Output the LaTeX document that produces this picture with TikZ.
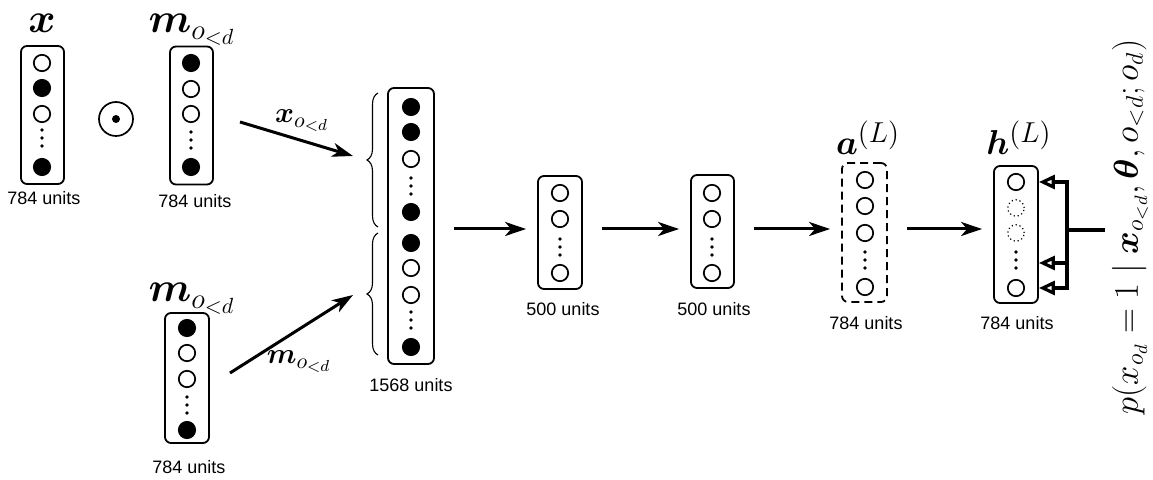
\documentclass[tikz,border=0pt]{standalone}
\usepackage{bm}
\usepackage{fontspec}
\newfontfamily\unitsfont{Liberation Sans}
\usetikzlibrary{arrows.meta,decorations.pathreplacing}

\tikzset{
  layer/.style={draw, line width=0.9pt, rounded corners=3pt, inner sep=0pt},
  wc/.style={circle, draw, line width=0.85pt, minimum size=8.2pt, inner sep=0pt, fill=white},
  bc/.style={wc, fill=black},
  dc/.style={circle, draw, line width=0.6pt, dash pattern=on 0.6pt off 1.4pt, minimum size=8.2pt, inner sep=0pt},
  units/.style={font=\unitsfont\fontsize{9}{11}\selectfont, inner sep=0pt},
  lbl/.style={font=\fontsize{19}{22}\selectfont, inner sep=0pt, anchor=base},
  biglbl/.style={lbl, font=\fontsize{22}{26}\selectfont},
  arrlbl/.style={font=\fontsize{15.5}{18}\selectfont, inner sep=0pt},
  arr/.style={-{Stealth[length=10.5pt,width=7pt,inset=3pt]}, line width=1.5pt},
  chain/.style={arr, shorten <=9.5pt, shorten >=5.5pt},
  fb/.style={-{Triangle[open,length=8pt,width=7pt]}, line width=1.6pt},
  vdots/.pic={\fill (0,-8) circle (1.9); \fill (0,0) circle (1.9); \fill (0,8) circle (1.9);}
}

\begin{document}
\begin{tikzpicture}[x=0.5pt,y=-0.5pt]
\useasboundingbox (0,0) rectangle (1153,480);

% ---- input x ----
\node[layer, minimum width=21.5pt, minimum height=69pt] (bx) at (42.5,115) {};
\node[wc] (bx1) at (42,63) {};
\node[bc] (bx2) at (42,88) {};
\node[wc] (bx3) at (42,114) {};
\pic at (42,138) {vdots};
\node[bc] (bx4) at (42,167) {};
\node[biglbl] (lx) at (42,33) {$\bm{x}$};
\node[units] (ux) at (44,198) {784 units};

% ---- elementwise product ----
\node[draw, circle, minimum size=17pt, inner sep=0pt, line width=0.85pt] (odot) at (116,119) {};
\fill (odot.center) circle (4);

% ---- mask m ----
\node[layer, minimum width=21.5pt, minimum height=69pt] (bmask) at (191.5,115.5) {};
\node[bc] (bm1) at (191,63) {};
\node[wc] (bm2) at (191,89) {};
\node[wc] (bm3) at (191,114) {};
\pic at (191,140) {vdots};
\node[bc] (bm4) at (191,167) {};
\node[biglbl] (lm) at (192,33) {$\bm{m}_{o_{<d}}$};
\node[units] (um) at (195,201) {784 units};

% ---- mask m (second copy) ----
\node[layer, minimum width=22pt, minimum height=65pt] (bq) at (187,378) {};
\node[bc] (bq1) at (187,328) {};
\node[wc] (bq2) at (187,353) {};
\node[wc] (bq3) at (187,379) {};
\pic at (187,405) {vdots};
\node[bc] (bq4) at (187,430) {};
\node[biglbl] (lq) at (192,302) {$\bm{m}_{o_{<d}}$};
\node[units] (uq) at (189,467) {784 units};

% ---- concatenated input ----
\node[layer, minimum width=23pt, minimum height=138pt] (bcat) at (411,226) {};
\node[bc] (c1) at (411,107) {};
\node[bc] (c2) at (411,132) {};
\node[wc] (c3) at (411,159) {};
\pic at (411,186) {vdots};
\node[bc] (c4) at (411,212) {};
\node[bc] (c5) at (411,243) {};
\node[wc] (c6) at (411,268) {};
\node[wc] (c7) at (411,295) {};
\pic at (411,320) {vdots};
\node[bc] (c8) at (411,347) {};
\node[units] (uc) at (411,385) {1568 units};
\draw[decorate, decoration={brace, amplitude=5.5pt}, line width=0.55pt] (378,227) -- (378,93);
\draw[decorate, decoration={brace, amplitude=5.5pt}, line width=0.55pt] (378,355) -- (378,233);

% ---- hidden layer 1 ----
\node[layer, minimum width=22pt, minimum height=56.5pt] (h1) at (560,232.5) {};
\node[wc] (h11) at (560,193) {};
\node[wc] (h12) at (560,219) {};
\pic at (560,247) {vdots};
\node[wc] (h13) at (560,273) {};
\node[units] (uh1) at (563,309) {500 units};

% ---- hidden layer 2 ----
\node[layer, minimum width=21.5pt, minimum height=56.5pt] (h2) at (712.5,231.5) {};
\node[wc] (h21) at (712,193) {};
\node[wc] (h22) at (712,219) {};
\pic at (712,247) {vdots};
\node[wc] (h23) at (712,273) {};
\node[units] (uh2) at (714,309) {500 units};

% ---- pre-activation a^(L) ----
\node[layer, dash pattern=on 4pt off 2.5pt, minimum width=22.5pt, minimum height=69.5pt] (ba) at (864.5,232.5) {};
\node[wc] (a1) at (865,180) {};
\node[wc] (a2) at (865,206) {};
\node[wc] (a3) at (865,233) {};
\pic at (865,260) {vdots};
\node[wc] (a4) at (865,287) {};
\node[lbl] (la) at (868,155) {$\bm{a}^{(L)}$};
\node[units] (ua) at (866,323) {784 units};

% ---- output h^(L) ----
\node[layer, minimum width=22pt, minimum height=68.5pt] (bh) at (1016,234.5) {};
\node[wc] (o1) at (1016,182) {};
\node[dc] (o2) at (1016,208) {};
\node[dc] (o3) at (1016,233) {};
\pic at (1016,260) {vdots};
\node[wc] (o4) at (1016,288) {};
\node[lbl] (lh) at (1019,155) {$\bm{h}^{(L)}$};
\node[units] (uh) at (1017,323) {784 units};

% ---- connectors ----
\coordinate (sx) at (240,122);
\coordinate (ex) at (353,156);
\draw[arr] (sx) -- (ex);
\node[arrlbl] (lxo) at (302,121) {$\bm{x}_{o_{<d}}$};

\coordinate (sm) at (230,373);
\coordinate (em) at (353,295);
\draw[arr] (sm) -- (em);
\node[arrlbl] (lmo) at (299,362) {$\bm{m}_{o_{<d}}$};

\coordinate (row) at (0,229);
\draw[chain] (bcat.east |- row) -- (h1.west |- row);
\draw[chain] (h1.east |- row) -- (h2.west |- row);
\draw[chain] (h2.east |- row) -- (ba.west |- row);
\draw[chain] (ba.east |- row) -- (bh.west |- row);

% ---- conditional output ----
\node[rotate=90, font=\fontsize{17.8}{21}\selectfont, inner sep=0pt] (pout) at (1130,227)
  {$p(x_{o_d}=1 \mid \bm{x}_{o_{<d}}, \bm{\theta}, o_{<d}; o_d)$};
\coordinate (fj) at (1067,230);
\coordinate (fe) at (1105,230);
\draw[line width=1.6pt] (fj) -- (fe);
\draw[fb] (fj) |- (bh.east |- o1);
\draw[fb] (fj) |- (bh.east |- 0,263);
\draw[fb] (fj) |- (bh.east |- o4);
\end{tikzpicture}
\end{document}
